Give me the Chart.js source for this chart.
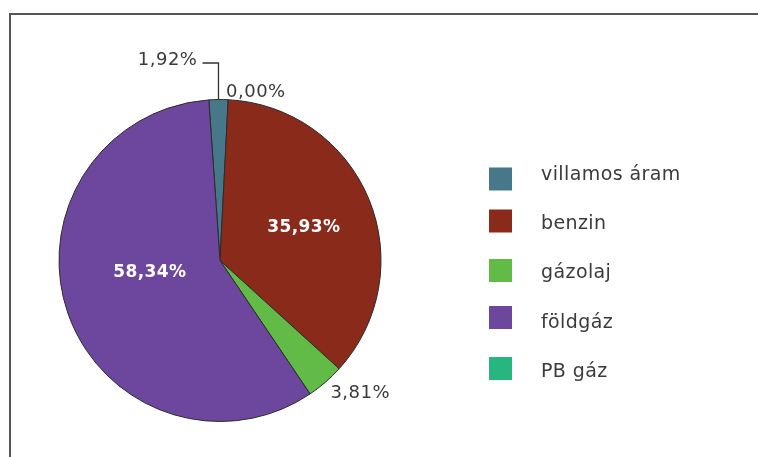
<!DOCTYPE html>
<html>
<head>
<meta charset="utf-8">
<script src="https://cdn.jsdelivr.net/npm/chart.js@4/dist/chart.umd.min.js"></script>
<style>
  html, body { margin: 0; padding: 0; background: #fff; }
  #wrap { width: 758px; height: 457px; position: relative; }
</style>
</head>
<body>
<div id="wrap"><canvas id="chart" width="758" height="457"></canvas></div>
<script>
// categories and values (percent)
var categories = ['villamos áram', 'benzin', 'gázolaj', 'földgáz', 'PB gáz'];
var shares = [1.92, 35.93, 3.81, 58.34, 0.00];
var sliceColors = ['#46788a', '#8a2a1a', '#62bb46', '#6c479d', '#27b67f'];

var FONT = '"DejaVu Sans", sans-serif';
var TEXT = '#3a3a3a';

function pct(v) {
    return v.toFixed(2).replace('.', ',') + '%';
}

// frame: top and left border lines
var framePlugin = {
    id: 'frame',
    beforeDraw: function (chart) {
        var c = chart.ctx;
        c.save();
        c.strokeStyle = '#555';
        c.lineWidth = 2;
        c.beginPath();
        c.moveTo(758, 14);
        c.lineTo(10, 14);
        c.lineTo(10, 457);
        c.stroke();
        c.restore();
    }
};

// percentage labels next to / on the slices
var labelPlugin = {
    id: 'sliceLabels',
    afterDatasetsDraw: function (chart) {
        var c = chart.ctx;
        var arcs = chart.getDatasetMeta(0).data;
        c.save();
        c.textBaseline = 'alphabetic';
        arcs.forEach(function (arc, i) {
            var p = arc.getProps(['x', 'y', 'startAngle', 'endAngle', 'outerRadius']);
            var mid = (p.startAngle + p.endAngle) / 2;
            var r = p.outerRadius;
            var txt = pct(shares[i]);
            if (i === 1) {          // benzin, inside
                c.font = 'bold 17px ' + FONT;
                c.letterSpacing = '0.4px';
                c.fillStyle = '#fff';
                c.textAlign = 'center';
                c.fillText(txt, p.x + Math.cos(mid) * r * 0.55 + 2, p.y + Math.sin(mid) * r * 0.55 + 5);
            } else if (i === 3) {   // földgáz, inside
                c.font = 'bold 17px ' + FONT;
                c.letterSpacing = '0.4px';
                c.fillStyle = '#fff';
                c.textAlign = 'center';
                var a = mid + 0.2;
                c.fillText(txt, p.x + Math.cos(a) * r * 0.44, p.y + Math.sin(a) * r * 0.44 + 7);
            } else if (i === 2) {   // gázolaj, outside right
                c.font = '18px ' + FONT;
                c.letterSpacing = '0.5px';
                c.fillStyle = TEXT;
                c.textAlign = 'left';
                c.fillText(txt, p.x + Math.cos(mid) * r + 5, p.y + Math.sin(mid) * r + 16);
            } else if (i === 0) {   // villamos áram, leader line
                var tx = p.x + Math.cos(mid) * r;
                var ty = p.y + Math.sin(mid) * r;
                c.strokeStyle = '#333';
                c.lineWidth = 1.3;
                c.beginPath();
                c.moveTo(tx, ty);
                c.lineTo(tx, 63);
                c.lineTo(tx - 16, 63);
                c.stroke();
                c.font = '18px ' + FONT;
                c.letterSpacing = '0.5px';
                c.fillStyle = TEXT;
                c.textAlign = 'right';
                c.fillText(txt, tx - 21, 65);
            } else {                // PB gáz, above top of pie
                c.font = '18px ' + FONT;
                c.letterSpacing = '0.5px';
                c.fillStyle = TEXT;
                c.textAlign = 'left';
                c.fillText(txt, p.x + 6, p.y - r - 3);
            }
        });
        c.restore();
    }
};

// legend drawn on the right
var legendPlugin = {
    id: 'sideLegend',
    afterDraw: function (chart) {
        var c = chart.ctx;
        var items = Chart.overrides.pie.plugins.legend.labels.generateLabels(chart);
        var boxY = [179, 221, 270.5, 317.5, 368.5];
        c.save();
        c.textBaseline = 'alphabetic';
        c.textAlign = 'left';
        c.font = '19px ' + FONT;
        c.letterSpacing = '0.4px';
        items.forEach(function (it, i) {
            c.fillStyle = it.fillStyle;
            c.fillRect(489, boxY[i] - 11.5, 23, 23);
            c.fillStyle = TEXT;
            c.fillText(it.text, 541, 180 + i * 49.2);
        });
        c.restore();
    }
};

var ctx = document.getElementById('chart').getContext('2d');
var chart = new Chart(ctx, {
    type: 'pie',
    data: {
        labels: categories,
        datasets: [{
            data: shares,
            backgroundColor: sliceColors,
            borderColor: '#2b2b2b',
            borderWidth: 1
        }]
    },
    options: {
        responsive: false,
        animation: false,
        rotation: -4,
        layout: { padding: { left: 58, top: 99, right: 376, bottom: 35 } },
        plugins: {
            legend: { display: false },
            tooltip: { enabled: false }
        }
    },
    plugins: [framePlugin, labelPlugin, legendPlugin]
});
</script>
</body>
</html>
